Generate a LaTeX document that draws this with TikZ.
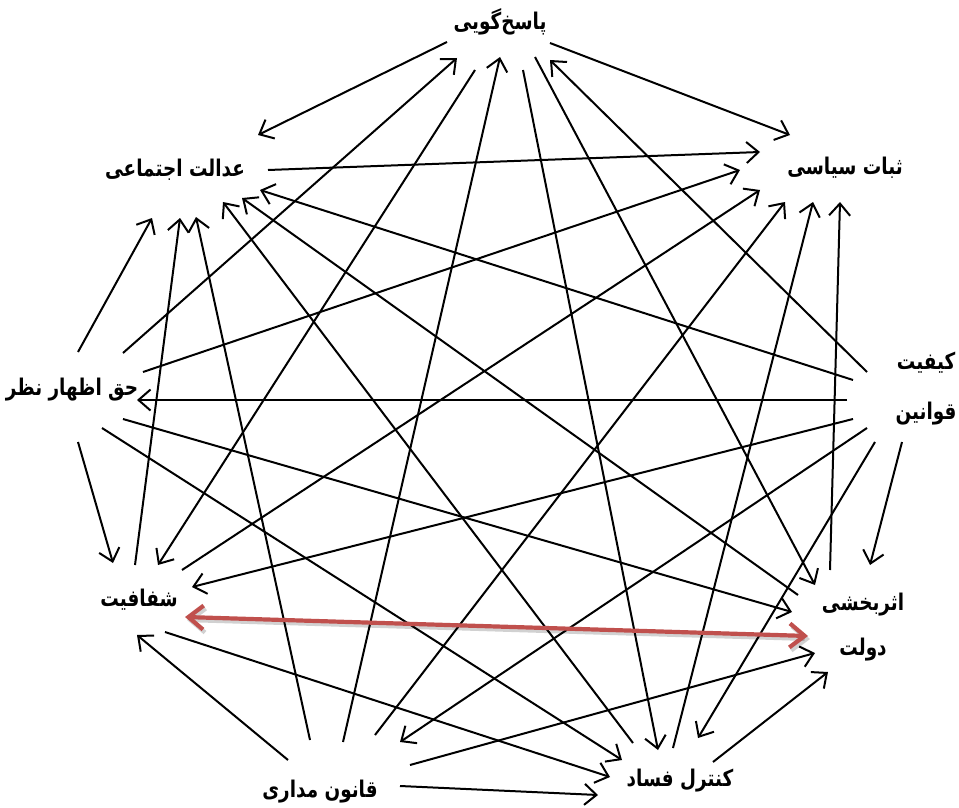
\documentclass[tikz,border=0pt]{standalone}
\usepackage{fontspec}
\newfontfamily\fa[Script=Arabic,FakeStretch=0.8]{DejaVu Sans}
\TeXXeTstate=1
\usetikzlibrary{arrows.meta}
\definecolor{redarr}{RGB}{192,80,77}
\tikzset{
  lbl/.style={font=\fa\bfseries\fontsize{23}{26}\selectfont, inner sep=0pt, align=center},
  arr/.style={line width=2pt, -{Straight Barb[length=12pt,width=21pt]}},
  dbl/.style={line width=4.2pt, draw=redarr, {Straight Barb[length=15pt,width=24pt]}-{Straight Barb[length=15pt,width=24pt]}},
  shadowline/.style={line width=4.2pt, draw=black, opacity=0.18, {Straight Barb[length=15pt,width=24pt]}-{Straight Barb[length=15pt,width=24pt]}},
}
\begin{document}
\begin{tikzpicture}[x=1pt,y=-1pt]
\useasboundingbox (0,0) rectangle (959,808);
% nodes
\node[lbl] (P) at (500,22) {\beginR پاسخ‌گویی\endR};
\node[lbl] (A) at (175,170) {\beginR عدالت اجتماعی\endR};
\node[lbl] (S) at (845,168) {\beginR ثبات سیاسی\endR};
\node[lbl] (H) at (72,390) {\beginR حق اظهار نظر\endR};
\node[lbl] (K) at (926,389) {\beginR کیفیت\endR\\[24pt]\beginR قوانین\endR};
\node[lbl] (T) at (139,600) {\beginR شفافیت\endR};
\node[lbl] (E) at (863,627) {\beginR اثربخشی\endR\\[19pt]\beginR دولت\endR};
\node[lbl] (Q) at (320,792) {\beginR قانون مداری\endR};
\node[lbl] (C) at (680,781) {\beginR کنترل فساد\endR};
% connector end points
\coordinate (pA) at (447,42);  \coordinate (aP) at (258,135);
\coordinate (hP) at (123,353); \coordinate (pH) at (457,58);
\coordinate (pT) at (475,70);  \coordinate (tP) at (158,565);
\coordinate (qP) at (343,742); \coordinate (pQ) at (500,57);
\coordinate (pC) at (523,70);  \coordinate (cP) at (658,750);
\coordinate (pE) at (535,57);  \coordinate (eP) at (815,585);
\coordinate (kP) at (867,372); \coordinate (pK) at (550,60);
\coordinate (pS) at (550,43);  \coordinate (sP) at (790,135);
\coordinate (aS) at (268,170); \coordinate (sA) at (760,152);
\coordinate (kA) at (853,380); \coordinate (aK) at (260,190);
\coordinate (eA) at (798,595); \coordinate (aE) at (242,198);
\coordinate (cA) at (633,743); \coordinate (aC) at (223,202);
\coordinate (hA) at (78,352);  \coordinate (aH) at (152,218);
\coordinate (tA) at (135,565); \coordinate (aT) at (180,218);
\coordinate (qA) at (310,740); \coordinate (aQ) at (196,217);
\coordinate (hS) at (143,372); \coordinate (sH) at (740,170);
\coordinate (tS) at (182,570); \coordinate (sT) at (760,190);
\coordinate (qS) at (375,735); \coordinate (sQ) at (785,202);
\coordinate (cS) at (673,748); \coordinate (sC) at (813,202);
\coordinate (eS) at (830,570); \coordinate (sE) at (840,202);
\coordinate (kH) at (847,400); \coordinate (hK) at (137,400);
\coordinate (hE) at (123,419); \coordinate (eH) at (792,612);
\coordinate (hC) at (102,428); \coordinate (cH) at (622,760);
\coordinate (hT) at (78,442);  \coordinate (tH) at (113,563);
\coordinate (kT) at (853,419); \coordinate (tK) at (192,587);
\coordinate (kQ) at (867,428); \coordinate (qK) at (400,742);
\coordinate (kC) at (875,442); \coordinate (cK) at (698,738);
\coordinate (kE) at (902,442); \coordinate (eK) at (870,565);
\coordinate (tE) at (185,617); \coordinate (eT) at (808,636);
\coordinate (tEs) at (187,620); \coordinate (eTs) at (810,639);
\coordinate (qT) at (288,760); \coordinate (tQ) at (137,635);
\coordinate (tC) at (165,632); \coordinate (cT) at (610,777);
\coordinate (qE) at (410,765); \coordinate (eQ) at (815,653);
\coordinate (cE) at (713,762); \coordinate (eC) at (828,672);
\coordinate (qC) at (400,786); \coordinate (cQ) at (598,795);
% connectors
\draw[arr] (pA) -- (aP);
\draw[arr] (hP) -- (pH);
\draw[arr] (pT) -- (tP);
\draw[arr] (qP) -- (pQ);
\draw[arr] (pC) -- (cP);
\draw[arr] (pE) -- (eP);
\draw[arr] (kP) -- (pK);
\draw[arr] (pS) -- (sP);
\draw[arr] (aS) -- (sA);
\draw[arr] (kA) -- (aK);
\draw[arr] (eA) -- (aE);
\draw[arr] (cA) -- (aC);
\draw[arr] (hA) -- (aH);
\draw[arr] (tA) -- (aT);
\draw[arr] (qA) -- (aQ);
\draw[arr] (hS) -- (sH);
\draw[arr] (tS) -- (sT);
\draw[arr] (qS) -- (sQ);
\draw[arr] (cS) -- (sC);
\draw[arr] (eS) -- (sE);
\draw[arr] (kH) -- (hK);
\draw[arr] (hE) -- (eH);
\draw[arr] (hC) -- (cH);
\draw[arr] (hT) -- (tH);
\draw[arr] (kT) -- (tK);
\draw[arr] (kQ) -- (qK);
\draw[arr] (kC) -- (cK);
\draw[arr] (kE) -- (eK);
\draw[arr] (qT) -- (tQ);
\draw[arr] (tC) -- (cT);
\draw[arr] (qE) -- (eQ);
\draw[arr] (cE) -- (eC);
\draw[arr] (qC) -- (cQ);
\draw[shadowline] (tEs) -- (eTs);
\draw[dbl] (tE) -- (eT);
\end{tikzpicture}
\end{document}
